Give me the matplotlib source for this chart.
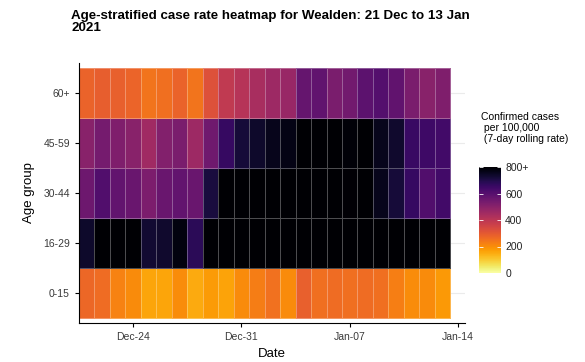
import numpy as np
import pandas as pd
import matplotlib
matplotlib.use("Agg")
import matplotlib.pyplot as plt
import matplotlib.dates as mdates

plt.rcParams['font.family'] = ['Liberation Sans', 'DejaVu Sans']

# data: 7-day rolling case rate per 100,000 by age group, 21 Dec 2020 - 13 Jan 2021
dates = pd.date_range("2020-12-21", "2021-01-13")
age_groups = ["0-15", "16-29", "30-44", "45-59", "60+"]

rate_0_15 = [270, 260, 220, 205, 160, 160, 200, 150, 175, 165, 205, 230,
             250, 205, 285, 255, 262, 255, 262, 255, 225, 200, 205, 180]
rate_16_29 = [740, 810, 820, 820, 730, 735, 780, 680, 850, 880, 900, 900,
              900, 900, 900, 900, 900, 900, 900, 900, 900, 900, 900, 900]
rate_30_44 = [555, 610, 575, 565, 525, 565, 575, 565, 715, 850, 850, 850,
              850, 850, 850, 850, 850, 795, 820, 760, 720, 660, 610, 640]
rate_45_59 = [500, 540, 520, 500, 455, 515, 530, 460, 550, 660, 720, 740,
              760, 770, 850, 850, 850, 790, 820, 760, 735, 655, 645, 640]
rate_60 = [280, 290, 285, 275, 245, 255, 280, 245, 320, 390, 410, 440,
           460, 470, 570, 580, 530, 545, 590, 605, 580, 530, 500, 520]

rates = np.array([rate_0_15, rate_16_29, rate_30_44, rate_45_59, rate_60])

fig = plt.figure(figsize=(5.85, 3.62), dpi=100)
ax = fig.add_axes([79 / 585, 1 - 323 / 362, (465 - 79) / 585, (323 - 63) / 362])

xnum = mdates.date2num(dates)
x_edges = np.append(xnum - 0.5, xnum[-1] + 0.5)
y_edges = np.arange(len(age_groups) + 1) - 0.5

# faint horizontal grid behind the tiles
for i in range(len(age_groups)):
    ax.axhline(i, color='#ebebeb', lw=0.8, zorder=0)

mesh = ax.pcolormesh(x_edges, y_edges, rates, cmap='inferno_r', vmin=0, vmax=800,
                     edgecolors=(1, 1, 1, 0.3), linewidth=0.5, zorder=1)

ax.set_xlim(x_edges[0], mdates.date2num(pd.Timestamp("2021-01-14")) + 0.45)
ax.set_ylim(-0.6, 4.6)
ax.set_yticks(range(len(age_groups)))
ax.set_yticklabels(age_groups)

ax.set_xticks(mdates.date2num(pd.to_datetime(["2020-12-24", "2020-12-31", "2021-01-07", "2021-01-14"])))
ax.xaxis.set_major_formatter(mdates.DateFormatter("%b-%d"))

for s in ['top', 'right']:
    ax.spines[s].set_visible(False)
for s in ['left', 'bottom']:
    ax.spines[s].set_linewidth(0.8)
ax.tick_params(axis='both', labelsize=7.5, labelcolor='#3a3a3a', length=3, width=0.8)

ax.set_xlabel("Date", fontsize=9.5, labelpad=4)
ax.set_ylabel("Age group", fontsize=9.5, labelpad=6)

fig.text(71 / 585, 1 - 10 / 362, "Age-stratified case rate heatmap for Wealden: 21 Dec to 13 Jan\n2021",
         fontsize=9.6, fontweight='bold', ha='left', va='top', linespacing=0.95)

# colour bar legend
cax = fig.add_axes([479 / 585, 1 - 273 / 362, 22 / 585, 106 / 362])
cb = fig.colorbar(mesh, cax=cax, ticks=[0, 200, 400, 600, 800])
cb.ax.set_yticklabels(['0', '200', '400', '600', '800+'])
cb.outline.set_visible(False)
cax.yaxis.set_ticks_position('both')
cax.tick_params(direction='in', color='white', length=3, width=0.6, labelsize=7.5,
                labelcolor='#222222', labelleft=False, labelright=True, pad=3)

fig.text(481 / 585, 1 - 112 / 362, "Confirmed cases\n per 100,000\n (7-day rolling rate)",
         fontsize=7.5, ha='left', va='top', linespacing=1.1)

fig.savefig("out.png", dpi=100)
